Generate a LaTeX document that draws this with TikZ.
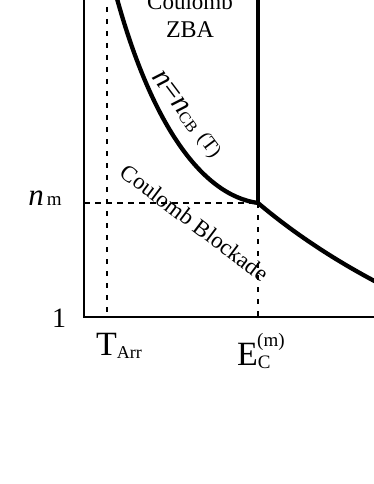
\documentclass[tikz,border=0pt]{standalone}
\usepackage{fontspec}
\setmainfont{Liberation Serif}
\newcommand{\fsz}[1]{\fontsize{#1}{#1}\selectfont}
\begin{document}
\begin{tikzpicture}[x=1pt,y=-1pt,
  axisline/.style={line width=2.8pt},
  thickline/.style={line width=4.3pt},
  vdash/.style={line width=2.8pt,dash pattern=on 5pt off 7pt},
  hdash/.style={line width=2.8pt,dash pattern=on 5.5pt off 5.5pt},
  lbl/.style={inner sep=0pt,anchor=base}]
\useasboundingbox (0,0) rectangle (374,484);
\clip (0,0) rectangle (374,484);
% coordinates
\coordinate (ytop) at (84,-5);
\coordinate (origin) at (84,317);
\coordinate (xend) at (380,317);
\coordinate (tarrTop) at (107,-5);
\coordinate (tarrBot) at (107,317);
\coordinate (ecTop) at (258,-5);
\coordinate (junc) at (258,203);
\coordinate (ecBot) at (258,317);
\coordinate (nmLeft) at (84,203);
\coordinate (cbTop) at (116,-5);
\coordinate (rightEnd) at (382,285);
% axes
\draw[axisline] (ytop) -- (origin) -- (xend);
% dotted/dashed guides
\draw[vdash] (tarrTop) -- (tarrBot);
\draw[hdash] (nmLeft) -- (junc);
\draw[vdash] (junc) -- (ecBot);
% thick lines
\draw[thickline] (ecTop) -- (junc);
\draw[thickline] (cbTop) .. controls (150,120) and (200,195) .. (junc);
\draw[thickline] (junc) .. controls (290,230) and (330,258) .. (rightEnd);
% labels
\node[lbl] (coul) at (190,10) {\fsz{23}Coulomb};
\node[lbl] (zba) at (190,38) {\fsz{24}ZBA};
\node[lbl,rotate=-53] (ncb) at (182,118) {\fsz{30}\itshape n\upshape=\itshape n\upshape\raisebox{-3pt}{\fsz{16}CB} \fsz{20}(T)};
\node[lbl,rotate=-37] (cb) at (190,229) {\fsz{23}Coulomb Blockade};
\node[lbl] (nm) at (45,205) {\fsz{31}\itshape n\upshape\fsz{19}\,m};
\node[lbl] (one) at (59,327) {\fsz{28}1};
\node[lbl,anchor=base west] (tarr) at (96,355) {\fsz{34}T\raisebox{-3pt}{\fsz{18}Arr}};
\node[lbl,anchor=base west] (ec) at (237,365) {\fsz{34}E\raisebox{-3pt}{\fsz{19}C}};
\node[lbl,anchor=base west] (ecm) at (257,346) {\fsz{19}(m)};
\end{tikzpicture}
\end{document}
